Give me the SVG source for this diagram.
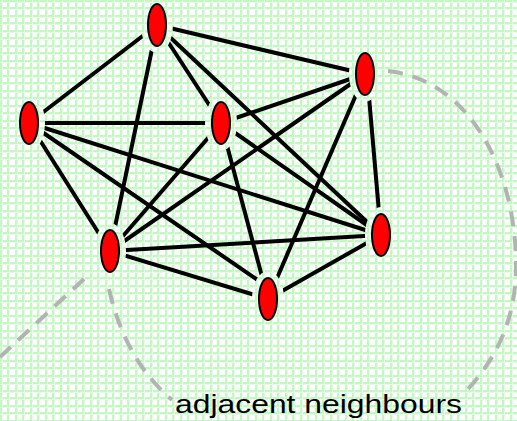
<svg xmlns="http://www.w3.org/2000/svg" width="517" height="421" viewBox="0 0 517 421">
  <defs>
    <pattern id="grid" patternUnits="userSpaceOnUse" width="15" height="15">
      <rect width="15" height="15" fill="#ffffff"/>
      <rect x="0" y="0" width="2" height="15" fill="#c4f7c4"/>
      <rect x="7" y="0" width="2" height="15" fill="#c4f7c4"/>
      <rect x="0" y="0" width="15" height="2" fill="#c4f7c4"/>
      <rect x="0" y="7" width="15" height="2" fill="#c4f7c4"/>
      <rect x="2" y="0" width="1" height="15" fill="#e6fce6"/>
      <rect x="9" y="0" width="1" height="15" fill="#e6fce6"/>
      <rect x="0" y="2" width="15" height="1" fill="#e6fce6"/>
      <rect x="0" y="9" width="15" height="1" fill="#e6fce6"/>
    </pattern>
    <mask id="gaps" maskUnits="userSpaceOnUse" x="0" y="0" width="517" height="421">
      <rect x="0" y="0" width="517" height="421" fill="#fff"/>
      <g fill="#000">
        <ellipse cx="157" cy="25" rx="16" ry="28"/>
        <ellipse cx="365" cy="74" rx="16" ry="28"/>
        <ellipse cx="29" cy="123" rx="16" ry="28"/>
        <ellipse cx="221" cy="123" rx="16" ry="28"/>
        <ellipse cx="381" cy="235" rx="16" ry="28"/>
        <ellipse cx="110" cy="251" rx="16" ry="28"/>
        <ellipse cx="268" cy="299" rx="16" ry="28"/>
      </g>
    </mask>
  </defs>
  <style>
    .edge { stroke: #000; stroke-width: 4; fill: none; }
    .node { fill: #ff0000; stroke: #000; stroke-width: 2; }
    .dash { stroke: #b3b3b3; stroke-width: 4; fill: none; stroke-dasharray: 15 10; }
    .label { font-family: "Liberation Sans", Arial, sans-serif; font-size: 25px; fill: #000; }
  </style>
  <rect x="0" y="0" width="517" height="421" fill="url(#grid)"/>

  <g id="neighbourhood">
    <path class="dash" d="M388,71 C470,80 515,170 516,262 C517,320 495,360 467,390"/>
    <path class="dash" d="M109,289 Q125,360 172,400"/>
    <path class="dash" d="M84,279 L0,357"/>
  </g>

  <g id="connectors" mask="url(#gaps)">
    <line class="edge" x1="157" y1="25" x2="365" y2="74"/>
    <line class="edge" x1="157" y1="25" x2="29" y2="123"/>
    <line class="edge" x1="157" y1="25" x2="221" y2="123"/>
    <line class="edge" x1="157" y1="25" x2="381" y2="235"/>
    <line class="edge" x1="157" y1="25" x2="110" y2="251"/>
    <line class="edge" x1="365" y1="74" x2="221" y2="123"/>
    <line class="edge" x1="367" y1="74" x2="381" y2="235"/>
    <line class="edge" x1="365" y1="74" x2="110" y2="251"/>
    <line class="edge" x1="365" y1="74" x2="268" y2="299"/>
    <line class="edge" x1="29" y1="123" x2="221" y2="123"/>
    <line class="edge" x1="29" y1="123" x2="381" y2="235"/>
    <line class="edge" x1="29" y1="123" x2="110" y2="251"/>
    <line class="edge" x1="29" y1="123" x2="262" y2="283"/>
    <line class="edge" x1="221" y1="123" x2="381" y2="235"/>
    <line class="edge" x1="221" y1="123" x2="110" y2="251"/>
    <line class="edge" x1="221" y1="123" x2="268" y2="299"/>
    <line class="edge" x1="381" y1="235" x2="110" y2="251"/>
    <line class="edge" x1="381" y1="235" x2="268" y2="299"/>
    <line class="edge" x1="110" y1="251" x2="268" y2="299"/>
  </g>

  <g id="node-a"><ellipse class="node" cx="157" cy="25" rx="9" ry="21"/></g>
  <g id="node-b"><ellipse class="node" cx="365" cy="74" rx="9" ry="21"/></g>
  <g id="node-c"><ellipse class="node" cx="29" cy="123" rx="9" ry="21"/></g>
  <g id="node-d"><ellipse class="node" cx="221" cy="123" rx="9" ry="21"/></g>
  <g id="node-e"><ellipse class="node" cx="381" cy="235" rx="9" ry="21"/></g>
  <g id="node-f"><ellipse class="node" cx="110" cy="251" rx="9" ry="21"/></g>
  <g id="node-g"><ellipse class="node" cx="268" cy="299" rx="9" ry="21"/></g>

  <text class="label" x="175" y="413" textLength="287" lengthAdjust="spacingAndGlyphs">adjacent neighbours</text>
</svg>
